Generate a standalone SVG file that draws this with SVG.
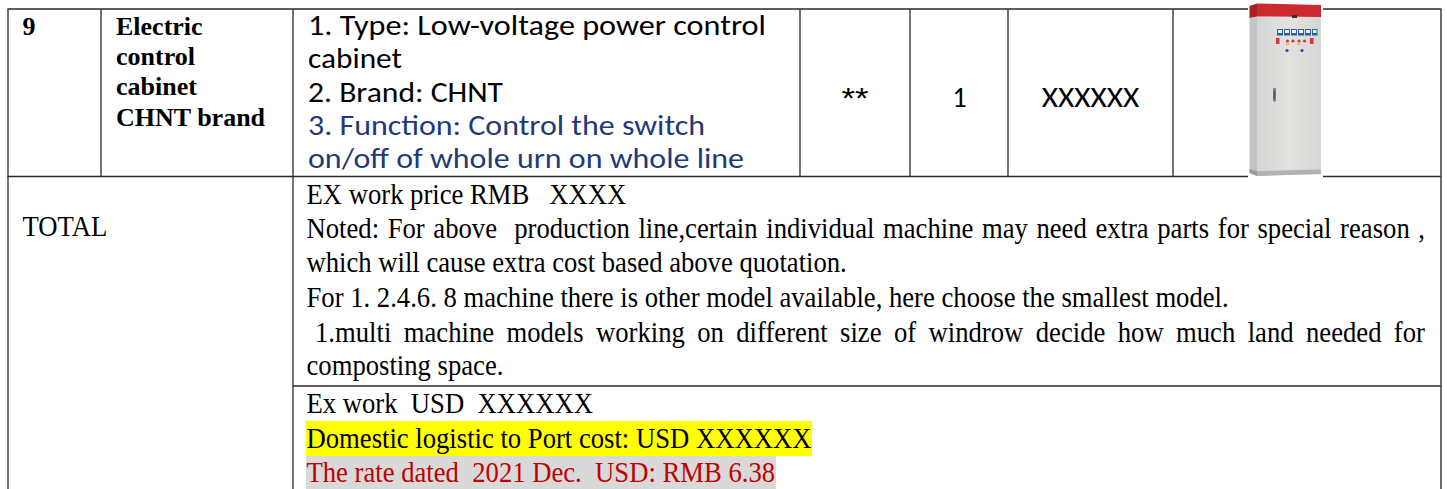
<svg xmlns="http://www.w3.org/2000/svg" width="1447" height="489" viewBox="0 0 1447 489">
  <style>
    .ser { font-family: "Liberation Serif", "Times New Roman", serif; font-size: 26.67px; fill: #000; }
    .serb { font-family: "Liberation Serif", "Times New Roman", serif; font-size: 26px; font-weight: bold; fill: #000; }
    .cal { font-family: Carlito, Lato, "Liberation Sans", sans-serif; font-size: 28.6px; fill: #000; }
    .ast { font-family: "Liberation Sans", Arial, sans-serif; font-size: 30px; fill: #000; }
    .blue { fill: #1F3A78; }
    .red { fill: #C00000; }
    .grid line { stroke: #2a2a2a; stroke-width: 1.3; }
  </style>
  <defs>
    <linearGradient id="face" x1="0" y1="0" x2="1" y2="0">
      <stop offset="0" stop-color="#d4d6d3"/>
      <stop offset="0.5" stop-color="#e2e3e1"/>
      <stop offset="1" stop-color="#d6d8d5"/>
    </linearGradient>
  </defs>
  <rect x="0" y="0" width="1447" height="489" fill="#fff"/>

  <!-- highlights -->
  <g id="highlights">
    <rect x="306" y="421" width="506" height="35" fill="#FFFF00"/>
    <rect x="306" y="456" width="470" height="33" fill="#D9D9D9"/>
  </g>

  <!-- table grid (connectors) -->
  <g id="grid" class="grid">
    <line x1="7.5" y1="9" x2="1441.5" y2="9"/>
    <line x1="7.5" y1="176.5" x2="1441.5" y2="176.5"/>
    <line x1="293" y1="386" x2="1441.5" y2="386"/>
    <line x1="8" y1="9" x2="8" y2="489"/>
    <line x1="101" y1="9" x2="101" y2="176.5"/>
    <line x1="293" y1="9" x2="293" y2="489"/>
    <line x1="800" y1="9" x2="800" y2="176.5"/>
    <line x1="910" y1="9" x2="910" y2="176.5"/>
    <line x1="1008" y1="9" x2="1008" y2="176.5"/>
    <line x1="1173" y1="9" x2="1173" y2="176.5"/>
    <line x1="1441" y1="9" x2="1441" y2="489" style="stroke:#4a4a4a;stroke-width:1.6"/>
  </g>

  <g id="cell-no">
    <text class="serb" x="22.5" y="35">9</text>
  </g>

  <g id="cell-name">
    <text class="serb" x="116" y="34.5">Electric</text>
    <text class="serb" x="116" y="64.5">control</text>
    <text class="serb" x="116" y="95">cabinet</text>
    <text class="serb" x="116" y="125.5">CHNT brand</text>
  </g>

  <g id="cell-spec">
    <text class="cal" x="308" y="35" textLength="458" lengthAdjust="spacingAndGlyphs">1. Type: Low-voltage power control</text>
    <text class="cal" x="308" y="68.3" textLength="94" lengthAdjust="spacingAndGlyphs">cabinet</text>
    <text class="cal" x="308" y="101.5" textLength="195" lengthAdjust="spacingAndGlyphs">2. Brand: CHNT</text>
    <text class="cal blue" x="308" y="134.8" textLength="397" lengthAdjust="spacingAndGlyphs">3. Function: Control the switch</text>
    <text class="cal blue" x="308" y="168" textLength="436" lengthAdjust="spacingAndGlyphs">on/off of whole urn on whole line</text>
  </g>

  <g id="cell-model">
    <text class="ast" x="841.5" y="108" textLength="27" lengthAdjust="spacingAndGlyphs">**</text>
  </g>

  <g id="cell-qty">
    <text class="cal" x="959.5" y="107.3" text-anchor="middle">1</text>
  </g>

  <g id="cell-price">
    <text class="cal" x="1090.5" y="107.3" text-anchor="middle" textLength="97.5" lengthAdjust="spacingAndGlyphs">XXXXXX</text>
  </g>

  <g id="cell-photo">
    <rect x="1248" y="0" width="75" height="178" fill="#fff"/>
    <polygon points="1249.5,18 1257,16.5 1257,176 1249.5,173" fill="#c3c5c2"/>
    <polygon points="1257,16.5 1321,17 1321,174 1257,176" fill="url(#face)"/>
    <polygon points="1249.5,6 1257,3.5 1257,16.5 1249.5,18" fill="#a91f24"/>
    <polygon points="1257,3.5 1321,5 1321,17 1257,16.5" fill="#cc2a2e"/>
    <polygon points="1249.5,169 1257,171 1257,176 1249.5,173" fill="#9a9c99"/>
    <polygon points="1257,171 1321,169.5 1321,174 1257,176" fill="#b1b3b0"/>
    <rect x="1292" y="15" width="5" height="3" fill="#333"/>
    <g fill="#2f5ea6">
      <rect x="1277" y="29" width="6" height="6.5"/>
      <rect x="1284" y="29" width="6" height="6.5"/>
      <rect x="1291" y="29" width="6" height="6.5"/>
      <rect x="1298" y="29" width="6" height="6.5"/>
      <rect x="1305" y="29" width="6" height="6.5"/>
      <rect x="1312" y="29" width="5.5" height="6.5"/>
    </g>
    <g fill="#eef2f8">
      <rect x="1278" y="30" width="4" height="3"/>
      <rect x="1285" y="30" width="4" height="3"/>
      <rect x="1292" y="30" width="4" height="3"/>
      <rect x="1299" y="30" width="4" height="3"/>
      <rect x="1306" y="30" width="4" height="3"/>
      <rect x="1313" y="30" width="3.5" height="3"/>
    </g>
    <g fill="#d8352f">
      <rect x="1276" y="38" width="3.5" height="6"/>
      <circle cx="1287.5" cy="41" r="1.6"/>
      <circle cx="1293" cy="41" r="1.6"/>
      <circle cx="1299" cy="41" r="1.6"/>
      <circle cx="1304.5" cy="41" r="1.6"/>
      <rect x="1310" y="38" width="3.5" height="6"/>
    </g>
    <g fill="#e8b03a">
      <rect x="1286" y="43.5" width="3" height="1.5"/>
      <rect x="1297.5" y="43.5" width="3" height="1.5"/>
    </g>
    <g fill="#2a4f8f">
      <circle cx="1287" cy="50.5" r="1.6"/>
      <circle cx="1302" cy="50.5" r="1.6"/>
    </g>
    <rect x="1273" y="88" width="3" height="13.5" rx="1" fill="#7d807c"/>
    <rect x="1273.6" y="91" width="1.6" height="8" fill="#555"/>
  </g>

  <g id="cell-total">
    <text class="ser" x="22.5" y="0" transform="matrix(1 0 0 1.1 0 236)">TOTAL</text>
  </g>

  <g id="cell-notes">
    <text class="ser" x="306.5" y="0" transform="matrix(1 0 0 1.1 0 203.5)" xml:space="preserve">EX work price RMB   XXXX</text>
    <text class="ser" x="306.5" y="0" transform="matrix(1 0 0 1.1 0 238)" xml:space="preserve" word-spacing="1.93" textLength="1118.5" lengthAdjust="spacing">Noted: For above  production line,certain individual machine may need extra parts for special reason ,</text>
    <text class="ser" x="306.5" y="0" transform="matrix(1 0 0 1.1 0 272)" xml:space="preserve">which will cause extra cost based above quotation.</text>
    <text class="ser" x="306.5" y="0" transform="matrix(1 0 0 1.1 0 306.5)" xml:space="preserve">For 1. 2.4.6. 8 machine there is other model available, here choose the smallest model.</text>
    <text class="ser" x="315" y="0" transform="matrix(1 0 0 1.1 0 341.5)" xml:space="preserve" word-spacing="5.69" textLength="1110" lengthAdjust="spacing">1.multi machine models working on different size of windrow decide how much land needed for</text>
    <text class="ser" x="306.5" y="0" transform="matrix(1 0 0 1.1 0 375)" xml:space="preserve">composting space.</text>
  </g>

  <g id="cell-usd">
    <text class="ser" x="306.5" y="0" transform="matrix(1 0 0 1.1 0 413)" xml:space="preserve">Ex work  USD  XXXXXX</text>
    <text class="ser" x="306.5" y="0" transform="matrix(1 0 0 1.1 0 448)" xml:space="preserve">Domestic logistic to Port cost: USD XXXXXX</text>
    <text class="ser red" x="306.5" y="0" transform="matrix(1 0 0 1.1 0 482)" xml:space="preserve">The rate dated  2021 Dec.  USD: RMB 6.38</text>
  </g>
</svg>
